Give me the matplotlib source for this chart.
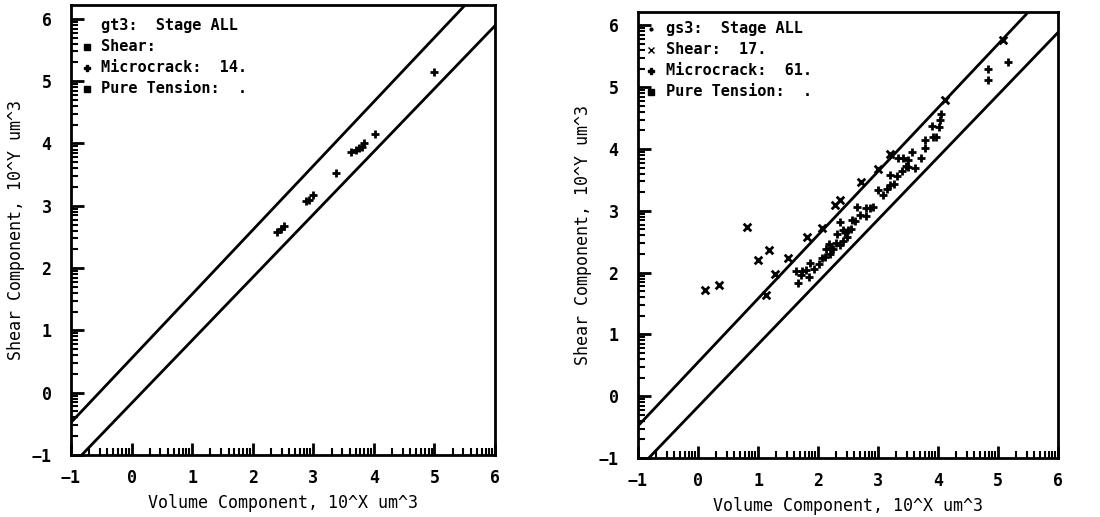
import numpy as np
import matplotlib
matplotlib.use('Agg')
import matplotlib.pyplot as plt
from matplotlib.ticker import FixedLocator

plt.rcParams['font.family'] = ['DejaVu Sans Mono']
plt.rcParams['font.weight'] = 'bold'

# bounding lines: y = slope*x + intercept
slope_hi, icpt_hi = 1.03, 0.55
slope_lo, icpt_lo = 1.01, -0.17
line_x = [-1.0, 6.0]

# left panel (gt3), microcrack events
gt3_micro_x = [2.40, 2.47, 2.52, 2.88, 2.93, 2.99, 3.37, 3.62, 3.70, 3.76, 3.80, 3.84, 4.02, 5.00]
gt3_micro_y = [2.58, 2.63, 2.68, 3.07, 3.10, 3.18, 3.53, 3.86, 3.89, 3.92, 3.95, 4.00, 4.15, 5.15]

# right panel (gs3), shear events
gs3_shear_x = [0.11, 0.35, 0.82, 1.00, 1.19, 1.29, 1.50, 1.81, 2.06, 2.28, 2.36, 2.72, 3.00, 3.19, 4.11, 5.08, 1.14]
gs3_shear_y = [1.72, 1.80, 2.74, 2.20, 2.37, 1.98, 2.23, 2.57, 2.72, 3.09, 3.17, 3.47, 3.68, 3.92, 4.79, 5.76, 1.64]

# right panel (gs3), microcrack events
gs3_micro_x = [1.67, 1.64, 1.74, 1.86, 1.85, 2.06, 2.14, 2.22, 2.19, 2.31, 2.36, 2.42, 2.50, 2.56,
               2.64, 2.79, 2.86, 3.00, 3.19, 3.19, 3.33, 3.42, 3.50, 3.56, 3.50, 3.78, 3.78, 3.92,
               3.89, 4.03, 4.04, 4.83, 4.83, 5.17,
               2.25, 2.30, 2.36, 2.42, 2.48, 2.45, 2.12, 2.20, 1.72, 1.80, 1.94, 2.02, 2.55, 2.62,
               2.70, 2.80, 2.92, 3.08, 3.14, 3.26, 3.32, 3.40, 3.47, 3.62, 3.72, 3.96, 4.02]
gs3_micro_y = [1.83, 2.02, 2.02, 2.15, 1.93, 2.23, 2.39, 2.39, 2.47, 2.63, 2.82, 2.69, 2.69, 2.85,
               3.07, 3.04, 3.04, 3.33, 3.42, 3.58, 3.85, 3.85, 3.83, 3.95, 3.71, 4.01, 4.14, 4.20,
               4.37, 4.47, 4.57, 5.11, 5.30, 5.41,
               2.38, 2.48, 2.44, 2.52, 2.58, 2.66, 2.26, 2.30, 1.96, 2.04, 2.06, 2.14, 2.70, 2.84,
               2.94, 2.92, 3.06, 3.26, 3.36, 3.44, 3.56, 3.64, 3.72, 3.70, 3.86, 4.20, 4.36]

major_ticks = [-1, 0, 1, 2, 3, 4, 5, 6]
minor_ticks = [n + np.log10(k) for n in range(-1, 6) for k in range(2, 10)]

fig = plt.figure(figsize=(11, 5.17), dpi=100)
ax1 = fig.add_axes([0.0645, 0.12, 0.3855, 0.87])
ax2 = fig.add_axes([0.58, 0.114, 0.382, 0.863])


def style(ax):
    ax.set_xlim(-1, 6)
    ax.set_ylim(-1, 6.22)
    for sp in ax.spines.values():
        sp.set_linewidth(2)
    ax.xaxis.set_major_locator(FixedLocator(major_ticks))
    ax.yaxis.set_major_locator(FixedLocator(major_ticks))
    ax.xaxis.set_minor_locator(FixedLocator(minor_ticks))
    ax.yaxis.set_minor_locator(FixedLocator(minor_ticks))
    ax.tick_params(which='major', direction='in', length=9, width=2, labelsize=12)
    ax.tick_params(axis='y', which='major', pad=14)
    ax.tick_params(axis='x', which='major', pad=10)
    ax.tick_params(which='minor', direction='in', length=5, width=1.5)
    ax.set_xlabel('Volume Component, 10^X um^3', fontsize=12, labelpad=5)
    ax.set_ylabel('Shear Component, 10^Y um^3', fontsize=12, labelpad=5)
    xs = np.array(line_x)
    ax.plot(xs, slope_hi * xs + icpt_hi, color='black', lw=2)
    ax.plot(xs, slope_lo * xs + icpt_lo, color='black', lw=2)


style(ax1)
style(ax2)

ax1.scatter(gt3_micro_x, gt3_micro_y, marker='+', s=30, color='black', linewidths=2, zorder=3)
ax2.scatter(gs3_shear_x, gs3_shear_y, marker='x', s=30, color='black', linewidths=2, zorder=3)
ax2.scatter(gs3_micro_x, gs3_micro_y, marker='+', s=30, color='black', linewidths=2, zorder=3)

# legend blocks written as text, like the plotter output
legend_gt3 = ['gt3:  Stage ALL', 'Shear:', 'Microcrack:  14.', 'Pure Tension:  .']
legend_gs3 = ['gs3:  Stage ALL', 'Shear:  17.', 'Microcrack:  61.', 'Pure Tension:  .']
marks_gt3 = ['', 's', 'P', 's']
marks_gs3 = ['.', 'x', 'P', 's']

for ax, labels, marks, y0, tx, mx in [(ax1, legend_gt3, marks_gt3, 0.955, 0.072, 0.038),
                                      (ax2, legend_gs3, marks_gs3, 0.962, 0.066, 0.03)]:
    for i, (lab, mk) in enumerate(zip(labels, marks)):
        yy = y0 - i * 0.047
        ax.text(tx, yy, lab, transform=ax.transAxes, fontsize=11, va='center', ha='left')
        if mk:
            ax.plot([mx], [yy], marker=mk, transform=ax.transAxes, color='black',
                    ms=4, ls='none')

fig.savefig('out.png', dpi=100)
